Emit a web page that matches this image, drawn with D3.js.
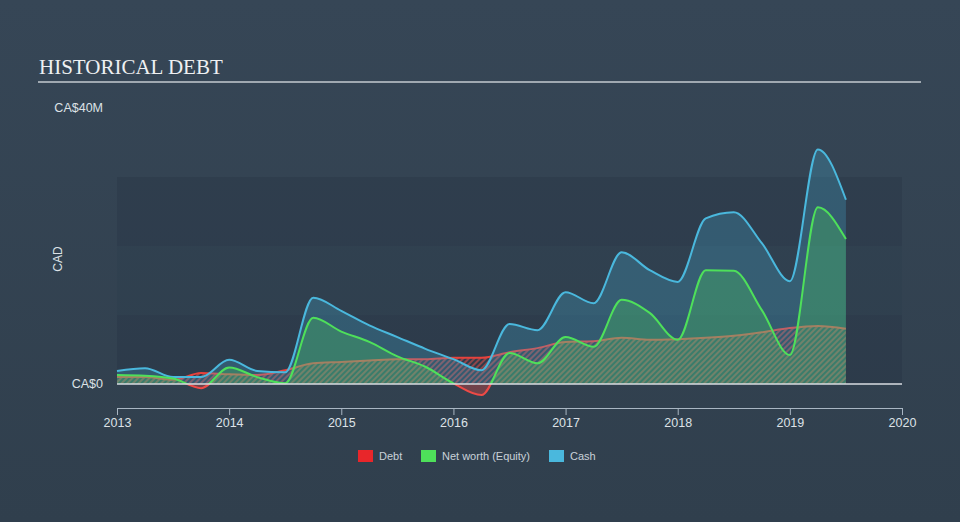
<!DOCTYPE html>
<html>
<head>
<meta charset="utf-8">
<script src="https://cdn.jsdelivr.net/npm/d3@7"></script>
<style>
  html, body { margin: 0; padding: 0; background: #344352; }
  svg { display: block; }
</style>
</head>
<body>
<svg id="chart" width="960" height="522"></svg>
<script>
// ---- data (CA$ millions) ----
const periods = [2013, 2013.25, 2013.5, 2013.75, 2014, 2014.25, 2014.5, 2014.75,
  2015, 2015.25, 2015.5, 2015.75, 2016, 2016.25, 2016.5, 2016.75,
  2017, 2017.25, 2017.5, 2017.75, 2018, 2018.25, 2018.5, 2018.75,
  2019, 2019.25, 2019.5];
const cash = [1.9, 2.3, 1.0, 1.0, 3.5, 1.9, 1.7, 12.5,
  10.6, 8.5, 6.8, 5.1, 3.6, 2.0, 8.7, 7.8,
  13.3, 11.7, 19.1, 16.5, 14.8, 24.0, 24.9, 20.4,
  14.9, 34.0, 26.7];
const equity = [1.3, 1.2, 0.8, -0.6, 2.4, 1.0, 0.1, 9.6,
  7.6, 6.1, 4.0, 2.5, 0.1, -1.6, 4.5, 3.0,
  6.8, 5.4, 12.2, 10.3, 6.4, 16.5, 16.4, 10.7,
  4.2, 25.6, 21.0];
const debt = [1.0, 1.0, 0.6, 1.6, 1.4, 1.3, 2.0, 3.0,
  3.2, 3.4, 3.6, 3.6, 3.8, 3.8, 4.6, 5.2,
  6.1, 6.2, 6.7, 6.4, 6.5, 6.7, 7.0, 7.5,
  8.1, 8.4, 8.0];
const xTicks = [2013, 2014, 2015, 2016, 2017, 2018, 2019, 2020];
const bandRanges = [[0, 10], [10, 20], [20, 30]];
const legendItems = ["Debt", "Net worth (Equity)", "Cash"];
const yLabels = ["CA$0", "CA$40M"];

// ---- layout ----
const svg = d3.select("#chart");
const W = 960, H = 522;
const x = d3.scaleLinear().domain([2013, 2020]).range([117, 902]);
const y = d3.scaleLinear().domain([0, 40]).range([384, 108]);

const defs = svg.append("defs");
const bg = defs.append("linearGradient").attr("id", "bg").attr("x1", 0).attr("y1", 0).attr("x2", 0).attr("y2", 1);
bg.append("stop").attr("offset", "0%").attr("stop-color", "#364656");
bg.append("stop").attr("offset", "100%").attr("stop-color", "#303f4d");
svg.append("rect").attr("width", W).attr("height", H).attr("fill", "url(#bg)");

const hatch = defs.append("pattern").attr("id", "hatch")
  .attr("width", 4).attr("height", 4)
  .attr("patternUnits", "userSpaceOnUse")
  .attr("patternTransform", "rotate(45)");
hatch.append("line").attr("x1", 1).attr("y1", 0).attr("x2", 1).attr("y2", 4)
  .attr("stroke", "rgba(232,80,72,0.7)").attr("stroke-width", 1.5);

defs.append("clipPath").attr("id", "above").append("rect")
  .attr("x", 0).attr("y", 0).attr("width", W).attr("height", y(0));
defs.append("clipPath").attr("id", "below").append("rect")
  .attr("x", 0).attr("y", y(0)).attr("width", W).attr("height", H - y(0));

// title
svg.append("text").attr("x", 39).attr("y", 74)
  .attr("font-family", "'Liberation Serif', 'DejaVu Serif', serif")
  .attr("font-size", 21).attr("fill", "#eef0f2")
  .text("HISTORICAL DEBT");
svg.append("line").attr("x1", 38).attr("x2", 921).attr("y1", 82).attr("y2", 82)
  .attr("stroke", "#c5cbd1").attr("stroke-width", 1.5);

// bands
const bandOpacity = [0.11, 0.045, 0.11];
svg.append("g").selectAll("rect").data(bandRanges).join("rect")
  .attr("x", x(2013)).attr("width", x(2020) - x(2013))
  .attr("y", d => y(d[1])).attr("height", d => y(d[0]) - y(d[1]))
  .attr("fill", (d, i) => `rgba(10,20,35,${bandOpacity[i]})`);

// y labels
const labelFont = "'Liberation Sans', Arial, sans-serif";
svg.append("text").attr("x", 103).attr("y", y(40)).attr("dy", "0.35em")
  .attr("text-anchor", "end").attr("font-family", labelFont).attr("font-size", 12.5)
  .attr("fill", "#dde2e7").text(yLabels[1]);
svg.append("text").attr("x", 103).attr("y", y(0)).attr("dy", "0.35em")
  .attr("text-anchor", "end").attr("font-family", labelFont).attr("font-size", 12.5)
  .attr("fill", "#dde2e7").text(yLabels[0]);
svg.append("text").attr("transform", `translate(62,${(y(0) + y(40)) / 2 + 13}) rotate(-90)`)
  .attr("text-anchor", "middle").attr("font-family", labelFont).attr("font-size", 12)
  .attr("fill", "#dde2e7").text("CAD");

// data
const pts = periods.map((p, i) => ({ p, cash: cash[i], equity: equity[i], debt: debt[i] }));
const curve = d3.curveMonotoneX;
const area = key => d3.area().curve(curve).x(d => x(d.p)).y0(y(0)).y1(d => y(d[key]));
const line = key => d3.line().curve(curve).x(d => x(d.p)).y(d => y(d[key]));

const plot = svg.append("g");
// debt hatched area
plot.append("path").datum(pts).attr("d", area("debt")).attr("fill", "url(#hatch)");
plot.append("path").datum(pts).attr("d", line("debt"))
  .attr("fill", "none").attr("stroke", "#e8423c").attr("stroke-width", 2);
// cash fill
plot.append("path").datum(pts).attr("d", area("cash")).attr("fill", "rgba(72,185,222,0.25)");
// equity fill (positive part)
plot.append("path").datum(pts).attr("d", area("equity")).attr("clip-path", "url(#above)")
  .attr("fill", "rgba(78,226,92,0.25)");
// negative equity fill
plot.append("path").datum(pts).attr("d", area("equity")).attr("clip-path", "url(#below)")
  .attr("fill", "rgba(232,70,66,0.35)");
// lines
plot.append("path").datum(pts).attr("d", line("cash"))
  .attr("fill", "none").attr("stroke", "#4ab8dd").attr("stroke-width", 2);
plot.append("path").datum(pts).attr("d", line("equity")).attr("clip-path", "url(#above)")
  .attr("fill", "none").attr("stroke", "#4ee05a").attr("stroke-width", 2);
plot.append("path").datum(pts).attr("d", line("equity")).attr("clip-path", "url(#below)")
  .attr("fill", "none").attr("stroke", "#ee4a46").attr("stroke-width", 2);
// zero line
svg.append("line").attr("x1", x(2013)).attr("x2", x(2020)).attr("y1", y(0)).attr("y2", y(0))
  .attr("stroke", "#d8dde2").attr("stroke-width", 1.5);

// x axis
const xAxis = svg.append("g").attr("transform", `translate(0,408)`)
  .call(d3.axisBottom(x).tickValues(xTicks).tickFormat(d3.format("d")).tickSize(7).tickSizeOuter(0).tickPadding(3));
xAxis.select(".domain").attr("stroke", "#a9b6c3");
xAxis.selectAll(".tick line").attr("stroke", "#a9b6c3");
xAxis.selectAll(".tick text").attr("fill", "#dde2e7").attr("font-size", 12.5).attr("font-family", labelFont);

// legend
const legendColors = ["#e8262a", "#4ee05a", "#4ab8dd"];
const legendX = [358, 421, 549];
const lg = svg.append("g");
legendItems.forEach((t, i) => {
  lg.append("rect").attr("x", legendX[i]).attr("y", 450).attr("width", 15).attr("height", 12)
    .attr("fill", legendColors[i]);
  lg.append("text").attr("x", legendX[i] + 21).attr("y", 456).attr("dy", "0.35em")
    .attr("font-family", labelFont).attr("font-size", 11).attr("fill", "#c9d1d9").text(t);
});
</script>
</body>
</html>
